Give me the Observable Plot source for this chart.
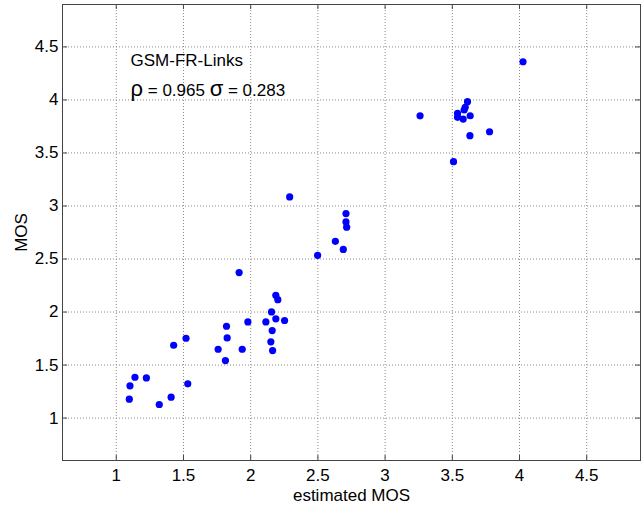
<!DOCTYPE html>
<html>
<head>
<meta charset="utf-8">
<script src="https://cdn.jsdelivr.net/npm/d3@7"></script>
<script src="https://cdn.jsdelivr.net/npm/@observablehq/plot@0.6"></script>
<style>
  html, body { margin: 0; padding: 0; background: #fff; }
  #chart svg { display: block; }
</style>
</head>
<body>
<div id="chart"></div>
<script>
// Estimated MOS (x) and subjective MOS (y)
const estimatedMOS = [
  1.914, 2.187, 2.202, 2.155, 1.979, 2.113, 2.187, 2.252, 1.820, 2.160,
  1.825, 1.519, 1.427, 1.758, 1.937, 2.150, 2.163, 1.812, 1.139, 1.224,
  1.102, 1.532, 1.097, 1.408, 1.320, 2.498, 2.290, 2.709, 2.709, 2.714,
  2.630, 2.689,
  4.026, 3.260, 3.613, 3.596, 3.588, 3.539, 3.539, 3.581, 3.633, 3.631,
  3.777, 3.509
];
const mos = [
  2.372, 2.158, 2.117, 2.001, 1.907, 1.907, 1.936, 1.920, 1.866, 1.825,
  1.756, 1.753, 1.687, 1.649, 1.649, 1.719, 1.637, 1.542, 1.385, 1.379,
  1.304, 1.323, 1.178, 1.197, 1.128, 2.535, 3.085, 2.928, 2.850, 2.800,
  2.667, 2.590,
  4.360, 3.850, 3.984, 3.930, 3.905, 3.873, 3.836, 3.820, 3.851, 3.663,
  3.700, 3.418
];
const xTicks = [1, 1.5, 2, 2.5, 3, 3.5, 4, 4.5];
const yTicks = [1, 1.5, 2, 2.5, 3, 3.5, 4, 4.5];
const xDomain = [0.6, 4.9];
const yDomain = [0.6, 4.9];
const titleLine = "GSM-FR-Links";
const statsParts = [["ρ", true], [" = 0.965 ", false], ["σ", true], [" = 0.283", false]];
const statsLine = statsParts.map(p => p[0]).join("");
const xLabel = "estimated MOS";
const yLabel = "MOS";

const points = estimatedMOS.map((x, i) => ({x, y: mos[i]}));

const W = 644, H = 508;
const mL = 62, mR = 4, mT = 4, mB = 48;
const frameW = W - mL - mR, frameH = H - mT - mB;
const tickLen = 5;
const font = "'Liberation Sans', Arial, Helvetica, sans-serif";
const fs = 17;
const gridStyle = {stroke: "#8a8a8a", strokeOpacity: 1, strokeDasharray: "1,2", strokeWidth: 1};
const axisColor = "#444";

const chart = Plot.plot({
  width: W,
  height: H,
  marginLeft: mL, marginRight: mR, marginTop: mT, marginBottom: mB,
  style: {fontFamily: font, fontSize: fs + "px", background: "#fff", color: "#000"},
  x: {domain: xDomain},
  y: {domain: yDomain},
  marks: [
    Plot.gridX(xTicks, gridStyle),
    Plot.gridY(yTicks, gridStyle),
    // inward ticks on all four sides
    Plot.tickX(xTicks, {x: d => d, stroke: axisColor, insetTop: frameH - tickLen}),
    Plot.tickX(xTicks, {x: d => d, stroke: axisColor, insetBottom: frameH - tickLen}),
    Plot.tickY(yTicks, {y: d => d, stroke: axisColor, insetRight: frameW - tickLen}),
    Plot.tickY(yTicks, {y: d => d, stroke: axisColor, insetLeft: frameW - tickLen}),
    Plot.frame({stroke: axisColor, strokeWidth: 1}),
    Plot.axisX(xTicks, {tickSize: 0, tickPadding: 8, fontSize: fs, fill: "#000", label: null, tickFormat: d => String(d)}),
    Plot.axisY(yTicks, {tickSize: 0, tickPadding: 4, fontSize: fs, fill: "#000", label: null, tickFormat: d => String(d)}),
    Plot.text([xLabel], {text: d => d, frameAnchor: "bottom", dy: 35, lineAnchor: "middle", fontSize: fs, fill: "#000"}),
    Plot.text([yLabel], {text: d => d, frameAnchor: "left", dx: -41, rotate: -90, lineAnchor: "middle", textAnchor: "middle", fontSize: fs, fill: "#000"}),
    Plot.text([titleLine], {text: d => d, frameAnchor: "top-left", dx: 68, dy: 49, lineAnchor: "top", textAnchor: "start", fontSize: fs, fill: "#000"}),
    Plot.text([statsLine], {text: d => d, frameAnchor: "top-left", dx: 68, dy: 79, lineAnchor: "top", textAnchor: "start", fontSize: fs, fill: "#000", className: "stats"}),
    Plot.dot(points, {x: "x", y: "y", r: 3.6, fill: "#0000ff", stroke: "none"})
  ]
});
document.getElementById("chart").appendChild(chart);

// enlarge the Greek symbols as in the reference (kept as real text)
d3.select(chart).selectAll("g.stats text").each(function() {
  const t = d3.select(this);
  t.text(null);
  for (const [s, big] of statsParts) {
    const ts = t.append("tspan").text(s);
    if (big) ts.attr("font-size", 22);
  }
});
</script>
</body>
</html>
